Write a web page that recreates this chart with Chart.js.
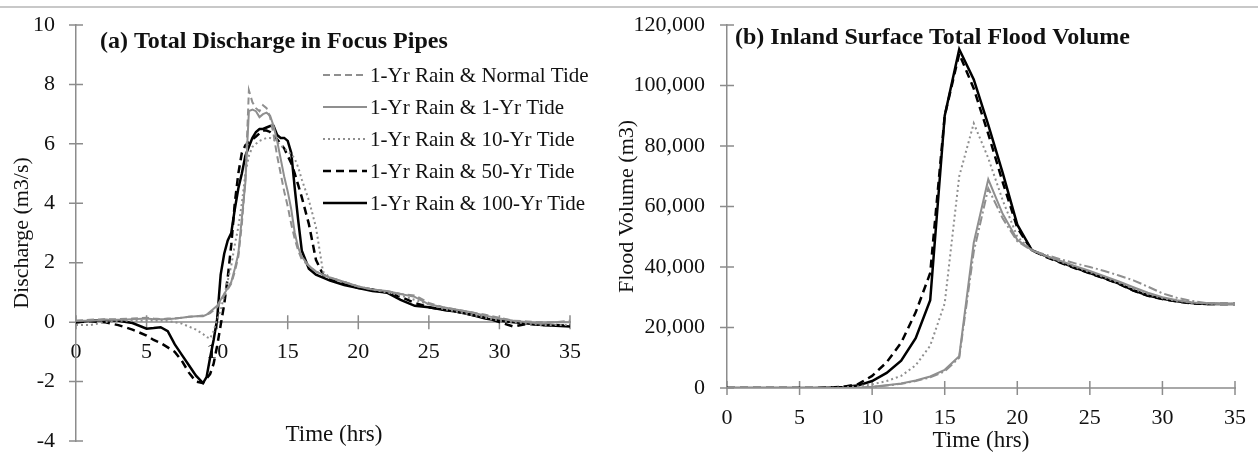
<!DOCTYPE html>
<html lang="en">
<head>
<meta charset="UTF-8">
<title>Total Discharge and Flood Volume</title>
<script src="https://cdn.jsdelivr.net/npm/chart.js"></script>
<style>
  body { margin: 0; background: #fff; }
  .topline { position: absolute; left: 0; top: 6px; width: 1258px; height: 2px; background: #c8c8c8; }
  #wrapA { position: absolute; left: 0; top: 0; }
  #wrapB { position: absolute; left: 615px; top: 0; }
</style>
</head>
<body>
<div class="topline"></div>
<div id="wrapA"><canvas id="chartA" width="615" height="456"></canvas></div>
<div id="wrapB"><canvas id="chartB" width="643" height="456"></canvas></div>
<script>
// ---- data ----
const seriesLabels = ['1-Yr Rain & Normal Tide', '1-Yr Rain & 1-Yr Tide', '1-Yr Rain & 10-Yr Tide',
                      '1-Yr Rain & 50-Yr Tide', '1-Yr Rain & 100-Yr Tide'];

// (a) discharge, m3/s
const timeA = [0,1,2,3,4,5,5.5,6,6.5,7,7.5,8,8.5,9,9.25,9.5,9.75,10,10.25,10.5,10.75,11,11.25,11.5,11.75,
  12,12.25,12.5,12.75,13,13.25,13.5,13.75,14,14.25,14.5,14.75,15,15.25,15.5,15.75,16,16.5,17,17.5,18,
  19,20,21,22,23,24,25,26,27,28,29,30,31,32,33,34,35];
const qNormal = [0.05,0.08,0.1,0.1,0.12,0.15,0.12,0.1,0.12,0.12,0.15,0.18,0.2,0.22,0.25,0.3,0.4,0.5,0.7,0.9,1.1,1.3,1.7,2.2,3.3,
  4.8,7.8,7.4,7.2,7.1,7.3,7.2,6.9,6.3,5.6,5.0,4.4,3.9,3.3,2.8,2.4,2.1,1.9,1.7,1.6,1.5,
  1.35,1.2,1.1,1.05,0.95,0.9,0.65,0.5,0.42,0.33,0.25,0.15,0.05,0.02,0,0,0.05];
const q1yr = [0.05,0.05,0.08,0.08,0.1,0.12,0.1,0.1,0.1,0.12,0.15,0.18,0.2,0.2,0.25,0.35,0.45,0.55,0.75,0.95,1.15,1.35,1.8,2.3,3.5,
  4.7,7.1,7.15,7.1,6.9,7.0,7.05,6.95,6.6,6.1,5.5,4.9,4.4,3.8,3.0,2.5,2.2,1.9,1.7,1.6,1.5,
  1.35,1.2,1.1,1.05,0.95,0.85,0.6,0.5,0.42,0.33,0.22,0.12,0.05,0,-0.05,0,0];
const q10yr = [-0.1,-0.1,0,0.05,0.05,0.05,0.05,0.05,0.03,0,-0.05,-0.15,-0.25,-0.4,-0.5,-0.55,-0.3,0.1,0.4,0.9,1.4,1.9,2.6,3.2,4.0,
  5.0,5.6,5.9,6.0,6.1,6.15,6.2,6.2,6.15,6.05,5.95,5.85,5.75,5.65,5.5,5.2,4.8,4.1,3.2,1.7,1.5,
  1.35,1.2,1.1,1.0,0.9,0.75,0.6,0.45,0.35,0.25,0.15,0.05,0,-0.05,-0.1,-0.1,-0.1];
const q50yr = [0,0.03,0,-0.1,-0.25,-0.45,-0.6,-0.7,-0.85,-1.0,-1.3,-1.7,-2.0,-2.05,-1.9,-1.75,-1.4,-0.8,-0.1,0.6,1.5,2.6,4.0,5.0,5.7,
  5.95,6.05,6.15,6.25,6.35,6.45,6.45,6.4,6.3,6.15,6.0,5.85,5.6,5.35,5.0,4.6,4.2,3.3,2.1,1.6,1.45,
  1.3,1.15,1.1,1.0,0.85,0.65,0.5,0.42,0.35,0.25,0.15,0,-0.15,-0.05,-0.1,-0.1,-0.12];
const q100yr = [0,0.05,0.07,0.05,-0.03,-0.22,-0.2,-0.17,-0.3,-0.75,-1.1,-1.45,-1.8,-2.05,-1.85,-1.2,-0.6,0.1,1.6,2.3,2.75,3.0,3.8,4.5,5.0,
  5.6,5.9,6.2,6.4,6.5,6.5,6.55,6.6,6.6,6.3,6.2,6.2,6.1,5.7,4.5,3.4,2.4,1.8,1.6,1.5,1.4,
  1.25,1.15,1.05,1.0,0.75,0.55,0.5,0.42,0.35,0.25,0.12,0.05,0,-0.05,-0.1,-0.12,-0.15];

// (b) flood volume, m3
const timeB = [0,1,2,3,4,5,6,7,8,9,10,11,12,13,14,15,16,17,18,19,20,21,22,23,24,25,26,27,28,29,30,31,32,33,34,35];
const vNormal = [0,0,0,0,0,0,0,0,0,50,300,800,1400,2300,3500,5500,10000,45000,66000,56000,48500,45500,
  44000,42500,41200,40000,38700,37200,35600,33500,31300,29800,28800,28100,27900,27800];
const v1yr = [0,0,0,0,0,0,0,0,0,100,400,900,1500,2500,3800,6000,10500,48000,69000,57500,49000,45600,
  43600,42000,40300,38700,37000,35200,33300,31500,30000,29000,28300,28000,27800,27800];
const v10yr = [0,0,0,0,0,0,0,0,200,500,1200,2300,4000,7500,14000,28000,70000,87500,76000,62000,50000,45500,
  43500,41700,40000,38300,36600,34800,32800,31000,29700,28800,28200,27900,27800,27800];
const v50yr = [0,0,0,0,0,0,0,100,400,1200,4000,8500,15000,25000,38000,90000,110500,99000,84000,68000,53000,45500,
  43300,41400,39600,37900,36200,34400,32200,30500,29400,28600,28000,27800,27800,27800];
const v100yr = [0,0,0,0,0,0,0,100,300,800,2300,5000,9000,16500,29000,90000,112000,102000,87000,71000,54000,45600,
  43500,41500,39700,38000,36300,34500,32300,30600,29500,28700,28100,27800,27800,27800];

// ---- styles ----
const SERIF = '"Liberation Serif", "Times New Roman", serif';
const GRAY = '#8f8f8f';
const stylesA = [
  { color: GRAY, width: 2, dash: [7, 4] },
  { color: GRAY, width: 2, dash: [] },
  { color: GRAY, width: 2, dash: [2, 3] },
  { color: '#000', width: 2.5, dash: [8, 5] },
  { color: '#000', width: 2.5, dash: [] }
];
const stylesB = [{ color: GRAY, width: 2, dash: [9, 3, 2, 3] }].concat(stylesA.slice(1));

function makeDatasets(times, series, styles) {
  return series.map((vals, i) => ({
    label: seriesLabels[i],
    data: times.map((t, j) => ({ x: t, y: vals[j] })),
    borderColor: styles[i].color,
    borderWidth: styles[i].width,
    borderDash: styles[i].dash,
    pointRadius: 0,
    tension: 0,
    fill: false
  }));
}

// titles, legend and cross tick marks
const decor = {
  id: 'decor',
  beforeDatasetsDraw(chart, args, opts) {
    const { ctx, chartArea, scales: { x, y } } = chart;
    const axisY = opts.xAxisAt === undefined ? chartArea.bottom : y.getPixelForValue(opts.xAxisAt);
    ctx.save();
    ctx.strokeStyle = '#8c8c8c';
    ctx.lineWidth = 1.5;
    ctx.beginPath();
    x.ticks.forEach(t => {
      const px = x.getPixelForValue(t.value);
      ctx.moveTo(px, axisY - 7);
      ctx.lineTo(px, axisY + 7);
    });
    y.ticks.forEach(t => {
      const py = y.getPixelForValue(t.value);
      ctx.moveTo(chartArea.left - 7, py);
      ctx.lineTo(chartArea.left + 7, py);
    });
    ctx.stroke();
    ctx.restore();
  },
  afterDraw(chart, args, opts) {
    const { ctx, chartArea } = chart;
    ctx.save();
    ctx.fillStyle = '#111';
    ctx.textBaseline = 'middle';
    ctx.font = 'bold 24px ' + SERIF;
    ctx.fillText(opts.title, opts.titleX, opts.titleY);
    if (opts.xTitle) {
      ctx.font = '23px ' + SERIF;
      ctx.textAlign = 'center';
      ctx.fillText(opts.xTitle, opts.xTitleX, chartArea.bottom - 6);
      ctx.textAlign = 'left';
    }
    if (opts.legend) {
      const lg = opts.legend;
      ctx.font = '21px ' + SERIF;
      chart.data.datasets.forEach((ds, i) => {
        const yy = lg.y + i * lg.gap;
        ctx.strokeStyle = ds.borderColor;
        ctx.lineWidth = ds.borderWidth;
        ctx.setLineDash(ds.borderDash);
        ctx.beginPath();
        ctx.moveTo(lg.x, yy);
        ctx.lineTo(lg.x + lg.len, yy);
        ctx.stroke();
        ctx.setLineDash([]);
        ctx.fillText(ds.label, lg.x + lg.len + 3, yy + 1);
      });
    }
    ctx.restore();
  }
};

const tickFont = { family: SERIF, size: 22, lineHeight: 1 };
// invisible tick marks only set the label offset; the visible cross ticks come from the plugin
function hiddenTicks(len) {
  return { drawOnChartArea: false, drawTicks: true, tickLength: len, tickColor: 'rgba(0,0,0,0)' };
}

new Chart(document.getElementById('chartA'), {
  type: 'line',
  data: { datasets: makeDatasets(timeA, [qNormal, q1yr, q10yr, q50yr, q100yr], stylesA) },
  plugins: [decor],
  options: {
    responsive: false,
    animation: false,
    layout: { padding: { top: 25, right: 45, bottom: 15, left: 0 } },
    plugins: {
      legend: { display: false },
      tooltip: { enabled: false },
      decor: {
        title: '(a) Total Discharge in Focus Pipes', titleX: 100, titleY: 42,
        xAxisAt: 0, xTitle: 'Time (hrs)', xTitleX: 334,
        legend: { x: 323, y: 75, gap: 32, len: 44 }
      }
    },
    scales: {
      x: {
        type: 'linear', min: 0, max: 35, position: { y: 0 },
        ticks: { stepSize: 5, padding: 0, color: '#111', font: tickFont },
        grid: hiddenTicks(19),
        border: { color: '#a8a8a8', width: 2 },
        afterFit: s => { s.height = 0; }
      },
      y: {
        min: -4, max: 10,
        ticks: { stepSize: 2, padding: 0, color: '#111', font: tickFont },
        grid: hiddenTicks(21),
        border: { color: '#8c8c8c', width: 1.5 },
        title: { display: true, text: 'Discharge (m3/s)', color: '#111',
                 font: { family: SERIF, size: 22, lineHeight: 1 }, padding: { top: 11, bottom: 0 } },
        afterFit: s => { s.width = 76; }
      }
    }
  }
});

new Chart(document.getElementById('chartB'), {
  type: 'line',
  data: { datasets: makeDatasets(timeB, [vNormal, v1yr, v10yr, v50yr, v100yr], stylesB) },
  plugins: [decor],
  options: {
    responsive: false,
    animation: false,
    layout: { padding: { top: 25, right: 23, bottom: 0, left: 0 } },
    plugins: {
      legend: { display: false },
      tooltip: { enabled: false },
      decor: { title: '(b) Inland Surface Total Flood Volume', titleX: 120, titleY: 38 }
    },
    scales: {
      x: {
        type: 'linear', min: 0, max: 35,
        ticks: { stepSize: 5, padding: 0, color: '#111', font: tickFont },
        grid: hiddenTicks(19),
        border: { color: '#a8a8a8', width: 2 },
        title: { display: true, text: 'Time (hrs)', color: '#111',
                 font: { family: SERIF, size: 23, lineHeight: 1.2 }, padding: { top: 0, bottom: 1 } },
        afterFit: s => { s.height = 68; }
      },
      y: {
        min: 0, max: 120000,
        ticks: { stepSize: 20000, padding: 0, color: '#111', font: tickFont },
        grid: hiddenTicks(22),
        border: { color: '#8c8c8c', width: 1.5 },
        title: { display: true, text: 'Flood Volume (m3)', color: '#111',
                 font: { family: SERIF, size: 22, lineHeight: 1 }, padding: { top: 1, bottom: 0 } },
        afterFit: s => { s.width = 112; }
      }
    }
  }
});
</script>
</body>
</html>
